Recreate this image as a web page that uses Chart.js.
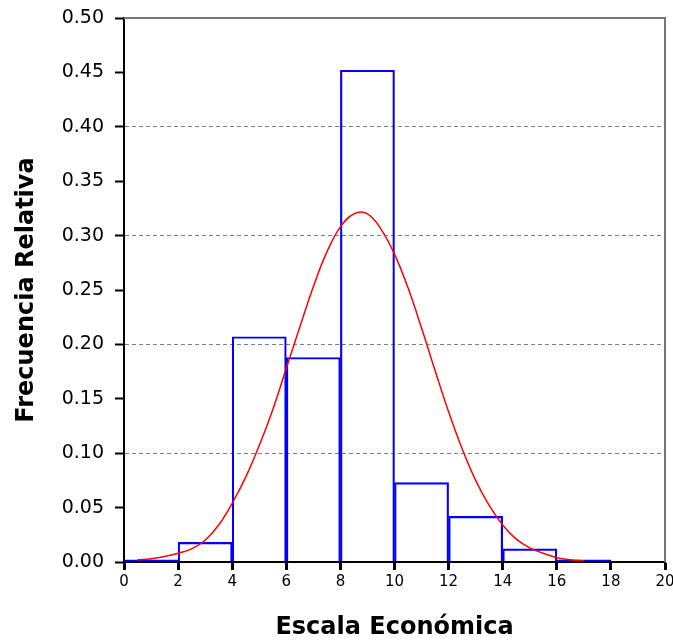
<!DOCTYPE html>
<html>
<head>
<meta charset="utf-8">
<script src="https://cdn.jsdelivr.net/npm/chart.js@4/dist/chart.umd.min.js"></script>
<style>
  body { margin: 0; background: #fff; }
  #wrap { width: 673px; height: 642px; }
</style>
</head>
<body>
<div id="wrap"><canvas id="histo"></canvas></div>
<script>
'use strict';

// histogram bins (centres of 2-wide classes) and relative frequencies
var binCentres = [1, 3, 5, 7, 9, 11, 13, 15, 17];
var relFreq = [0.002, 0.018, 0.207, 0.188, 0.452, 0.073, 0.042, 0.012, 0.002];

// fitted normal curve
var curveX = [0.5, 1, 1.5, 2, 2.5, 3, 3.5, 4, 4.5, 5, 5.5, 6, 6.5, 7, 7.5, 8, 8.5,
    9, 9.5, 10, 10.5, 11, 11.5, 12, 12.5, 13, 13.5, 14, 14.5, 15, 15.5, 16, 16.5, 17];
var curveY = [0.002, 0.003, 0.005, 0.008, 0.012, 0.020, 0.034, 0.054, 0.078, 0.107, 0.140,
    0.178, 0.216, 0.253, 0.285, 0.308, 0.320, 0.320, 0.306, 0.283, 0.252, 0.215,
    0.176, 0.138, 0.104, 0.075, 0.052, 0.034, 0.021, 0.013, 0.008, 0.004, 0.002, 0.001];

var yTicks = [0, 0.05, 0.1, 0.15, 0.2, 0.25, 0.3, 0.35, 0.4, 0.45, 0.5];
var xTicks = [0, 2, 4, 6, 8, 10, 12, 14, 16, 18, 20];

// gray frame on top and right of the plot
var framePlugin = {
    id: 'frame',
    afterDraw: function (chart) {
        var a = chart.chartArea, ctx = chart.ctx;
        ctx.save();
        ctx.strokeStyle = '#777';
        ctx.lineWidth = 2;
        ctx.beginPath();
        ctx.moveTo(a.left, a.top);
        ctx.lineTo(a.right, a.top);
        ctx.lineTo(a.right, a.bottom);
        ctx.stroke();
        ctx.restore();
    }
};

var barData = binCentres.map((c, i) => ({ x: c, y: relFreq[i] }));
var curveData = curveX.map((c, i) => ({ x: c, y: curveY[i] }));

new Chart(document.getElementById('histo'), {
    data: {
        datasets: [{
            type: 'line',
            data: curveData,
            borderColor: '#ff0000',
            borderWidth: 1.5,
            pointRadius: 0,
            tension: 0.4,
            order: 1
        }, {
            type: 'bar',
            data: barData,
            borderColor: '#0000ff',
            borderWidth: 1.5,
            backgroundColor: 'rgba(0,0,0,0)',
            barPercentage: 1,
            categoryPercentage: 1,
            order: 2
        }]
    },
    options: {
        responsive: true,
        maintainAspectRatio: false,
        animation: false,
        layout: { padding: { top: 18, right: 8, left: 0, bottom: 0 } },
        plugins: { legend: { display: false }, tooltip: { enabled: false } },
        scales: {
            x: {
                type: 'linear',
                min: 0,
                max: 20,
                offset: false,
                afterFit: s => { s.height = 80; s.paddingLeft = 0; s.paddingRight = 0; },
                afterBuildTicks: s => { s.ticks = xTicks.map(v => ({ value: v })); },
                ticks: {
                    color: '#000',
                    font: { family: 'DejaVu Sans', size: 15 },
                    padding: 3,
                    maxRotation: 0
                },
                grid: {
                    offset: false,
                    drawOnChartArea: false,
                    tickColor: '#000',
                    tickWidth: 3,
                    tickLength: 8
                },
                border: { color: '#000', width: 2 },
                title: {
                    display: true,
                    text: 'Escala Económica',
                    color: '#000',
                    font: { family: 'DejaVu Sans', size: 24, weight: 'bold' },
                    padding: { top: 0, bottom: 0 }
                }
            },
            y: {
                min: 0,
                max: 0.5,
                afterFit: s => { s.width = 124; s.paddingTop = 0; s.paddingBottom = 0; },
                afterBuildTicks: s => { s.ticks = yTicks.map(v => ({ value: v })); },
                ticks: {
                    color: '#000',
                    font: { family: 'DejaVu Sans', size: 19 },
                    padding: 11,
                    callback: v => v.toFixed(2)
                },
                grid: {
                    color: ctx => {
                        var t = Math.round(ctx.tick.value * 100);
                        return (t % 10 === 0 && t > 0 && t < 50) ? '#808080' : 'rgba(0,0,0,0)';
                    },
                    lineWidth: 1,
                    tickColor: '#000',
                    tickWidth: 2,
                    tickLength: 9
                },
                border: { color: '#000', width: 2, dash: [4, 3] },
                title: {
                    display: true,
                    text: 'Frecuencia Relativa',
                    color: '#000',
                    font: { family: 'DejaVu Sans', size: 24, weight: 'bold' },
                    padding: { top: 12, bottom: 0 }
                }
            }
        }
    },
    plugins: [framePlugin]
});
</script>
</body>
</html>
